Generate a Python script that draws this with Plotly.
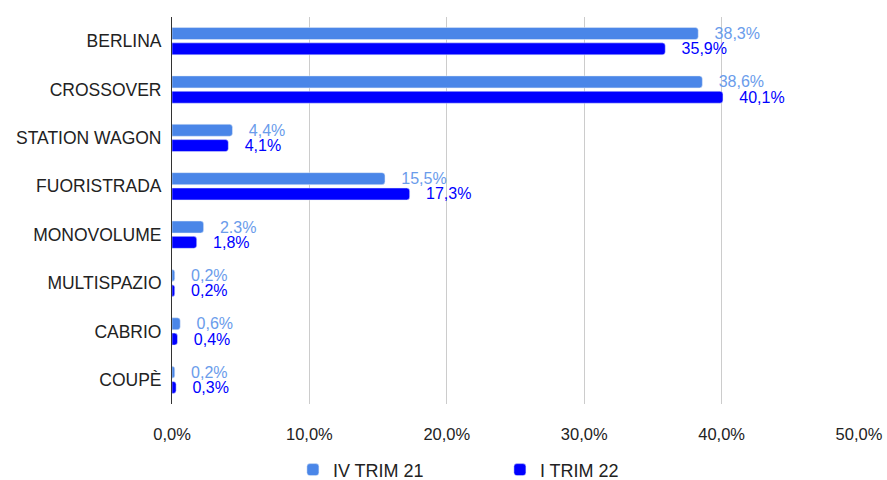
import plotly.graph_objects as go

categories = ["BERLINA", "CROSSOVER", "STATION WAGON", "FUORISTRADA",
              "MONOVOLUME", "MULTISPAZIO", "CABRIO", "COUPÈ"]
iv_trim_21 = [38.3, 38.6, 4.4, 15.5, 2.3, 0.2, 0.6, 0.2]
i_trim_22 = [35.9, 40.1, 4.1, 17.3, 1.8, 0.2, 0.4, 0.3]
iv_labels = ["38,3%", "38,6%", "4,4%", "15,5%", "2.3%", "0,2%", "0,6%", "0,2%"]
i_labels = ["35,9%", "40,1%", "4,1%", "17,3%", "1,8%", "0,2%", "0,4%", "0,3%"]
x_ticks = [0, 10, 20, 30, 40, 50]
x_tick_labels = ["0,0%", "10,0%", "20,0%", "30,0%", "40,0%", "50,0%"]

FONT = "Liberation Sans, Arial"
pad = "\u00a0" * 3  # push the value labels a bit away from the bar end

fig = go.Figure()
fig.add_trace(go.Bar(
    y=categories, x=iv_trim_21, name="IV TRIM 21", orientation="h",
    marker_color="#4a86e8", text=iv_labels, texttemplate=pad + "%{text}",
    textposition="outside", constraintext="none",
    textfont=dict(family=FONT, size=16, color="#6a9ceb"),
    cliponaxis=False,
))
fig.add_trace(go.Bar(
    y=categories, x=i_trim_22, name="I TRIM 22", orientation="h",
    marker_color="#0000ff", text=i_labels, texttemplate=pad + "%{text}",
    textposition="outside", constraintext="none",
    textfont=dict(family=FONT, size=16, color="#0000ff"),
    cliponaxis=False,
))

fig.update_layout(
    width=887, height=480,
    barmode="group", bargap=0.366, bargroupgap=0.22,
    barcornerradius=3,
    plot_bgcolor="white", paper_bgcolor="white",
    margin=dict(l=172, r=28, t=17, b=76, autoexpand=False),
    font=dict(family=FONT, size=17, color="#222222"),
    legend=dict(orientation="h", x=0.176, xanchor="left",
                yref="container", y=0.021, yanchor="middle",
                entrywidth=162, entrywidthmode="pixels",
                font=dict(family=FONT, size=18, color="#222222"), itemwidth=30),
)
fig.update_xaxes(
    range=[0, 50], tickvals=x_ticks, ticktext=x_tick_labels,
    showgrid=True, gridcolor="#cccccc", gridwidth=1, zeroline=False,
    tickfont=dict(family=FONT, size=16.5, color="#222222"),
    showline=False, ticks="", ticklabelstandoff=18, automargin=False,
)
fig.update_yaxes(
    autorange="reversed", showline=True, linecolor="#333333", linewidth=1,
    showgrid=False, ticks="", ticklabelstandoff=6, automargin=False,
    tickfont=dict(family=FONT, size=17.5, color="#222222"),
)

# drop the default 8px body margin so the figure fills the window exactly
fig.write_html("out.html", config={"displayModeBar": False},
               post_script="document.body.style.margin='0';")
